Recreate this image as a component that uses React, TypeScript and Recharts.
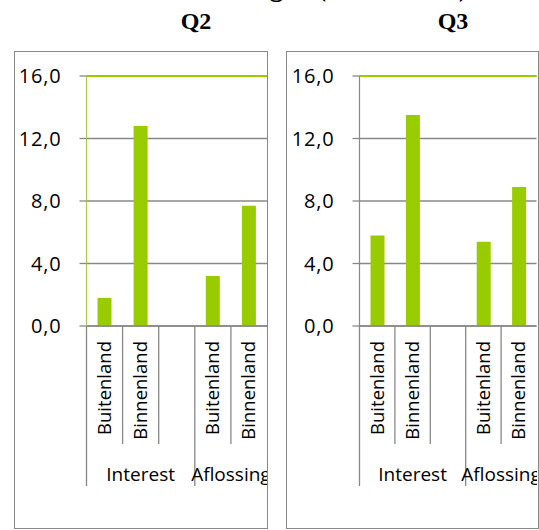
import React from 'react';
import {
  BarChart,
  Bar,
  XAxis,
  YAxis,
  CartesianGrid,
  ReferenceLine
} from 'recharts';

// ---- data ----
const CATEGORY_LABELS = ['Buitenland', 'Binnenland', '', 'Buitenland', 'Binnenland'];
const CATEGORY_GROUPS = ['Interest', 'Interest', 'Interest', 'Aflossing', 'Aflossing'];
const Q2_VALUES = [1.8, 12.8, null, 3.2, 7.7];
const Q3_VALUES = [5.8, 13.5, null, 5.4, 8.9];
const Y_TICKS = [0, 4, 8, 12, 16];
const TOP_LINE = 16;

const GREEN = '#99CC00';
const GREY = '#888888';
const FONT = '"Open Sans", "Noto Sans", sans-serif';

const fmt = (v: number) => v.toFixed(1).replace('.', ',');

// y tick: label sits a bit away from the short tick mark
function ValueTick(props: any) {
  const { x, y, payload } = props;
  return (
    <text
      x={x - 18}
      y={y}
      dy="0.36em"
      textAnchor="end"
      fontSize={20}
      letterSpacing={0.8}
      fontFamily={FONT}
      fill="#000"
    >
      {fmt(payload.value)}
    </text>
  );
}

// category tick: rotated label + divider lines + group label
function CategoryTick(props: any) {
  const { x, y, payload, index, width } = props;
  const n = CATEGORY_LABELS.length;
  const half = payload?.offset ? payload.offset : width / n / 2;
  const left = x - half;
  const group = CATEGORY_GROUPS[index];
  const firstOfGroup = index === 0 || CATEGORY_GROUPS[index - 1] !== group;
  const groupSize = CATEGORY_GROUPS.filter(g => g === group).length;

  return (
    <g>
      <line
        x1={left}
        x2={left}
        y1={y}
        y2={y + (firstOfGroup ? 160 : 118)}
        stroke={GREY}
        strokeWidth={1.3}
      />
      {CATEGORY_LABELS[index] && (
        <text
          transform={`translate(${x + 6.5},${y + 15}) rotate(-90)`}
          textAnchor="end"
          fontSize={18.5}
          fontFamily={FONT}
          fill="#000"
        >
          {CATEGORY_LABELS[index]}
        </text>
      )}
      {firstOfGroup && (
        <text
          x={left + groupSize * half}
          y={y + 155}
          textAnchor="middle"
          fontSize={19}
          fontFamily={FONT}
          fill="#000"
        >
          {group}
        </text>
      )}
    </g>
  );
}

interface PanelProps {
  title: string;
  values: (number | null)[];
  left: number;
  width: number;
  titleCenter: number;
  yAxisWidth: number;
  chartWidth: number;
  axisColor: string;
}

function Panel({ title, values, left, width, titleCenter, yAxisWidth, chartWidth, axisColor }: PanelProps) {
  const data = CATEGORY_LABELS.map((label, i) => ({
    key: `${CATEGORY_GROUPS[i]}-${i}`,
    label,
    value: values[i]
  }));

  return (
    <>
      <div
        style={{
          position: 'absolute',
          left: titleCenter - 60,
          width: 120,
          top: 9,
          textAlign: 'center',
          fontFamily: '"Liberation Serif", "Times New Roman", serif',
          fontWeight: 'bold',
          fontSize: 24,
          lineHeight: '24px'
        }}
      >
        {title}
      </div>
      <div
        style={{
          position: 'absolute',
          left,
          top: 51,
          width,
          height: 478,
          boxSizing: 'border-box',
          border: `1.5px solid ${GREY}`,
          overflow: 'hidden',
          background: '#fff'
        }}
      >
        <BarChart
          width={chartWidth}
          height={475}
          data={data}
          margin={{ top: 24, right: 0, left: 0, bottom: 1 }}
          barSize={14}
        >
          <CartesianGrid vertical={false} stroke={GREY} strokeWidth={1.3} strokeDasharray="" />
          <XAxis
            dataKey="key"
            type="category"
            height={200}
            axisLine={{ stroke: GREY, strokeWidth: 1.3 }}
            tickLine={false}
            tickSize={0}
            tickMargin={0}
            interval={0}
            tick={<CategoryTick />}
          />
          <YAxis
            width={yAxisWidth}
            domain={[0, 16]}
            ticks={Y_TICKS}
            interval={0}
            axisLine={{ stroke: axisColor, strokeWidth: 1.2 }}
            tickLine={{ stroke: GREY, strokeWidth: 1.3 }}
            tickSize={7}
            tickMargin={0}
            tick={<ValueTick />}
          />
          <ReferenceLine y={TOP_LINE} stroke={GREEN} strokeWidth={2} />
          <Bar dataKey="value" fill={GREEN} isAnimationActive={false} />
        </BarChart>
      </div>
    </>
  );
}

export default function App() {
  return (
    <div
      style={{
        position: 'absolute',
        left: 0,
        top: 0,
        width: 539,
        height: 530,
        overflow: 'hidden',
        background: '#fff'
      }}
    >
      {/* main title, mostly above the visible area */}
      <div
        style={{
          position: 'absolute',
          right: 71,
          top: -25.6,
          whiteSpace: 'nowrap',
          fontFamily: '"Liberation Serif", "Times New Roman", serif',
          fontWeight: 'bold',
          fontSize: 27,
          lineHeight: '27px'
        }}
      >
        Rente en aflossingen (in mld euro)
      </div>
      <Panel
        title="Q2"
        values={Q2_VALUES}
        left={13.5}
        width={254}
        titleCenter={196}
        yAxisWidth={71.5}
        chartWidth={252}
        axisColor="#a9cc4a"
      />
      <Panel
        title="Q3"
        values={Q3_VALUES}
        left={286}
        width={253}
        titleCenter={453}
        yAxisWidth={72.5}
        chartWidth={249.5}
        axisColor={GREY}
      />
    </div>
  );
}
